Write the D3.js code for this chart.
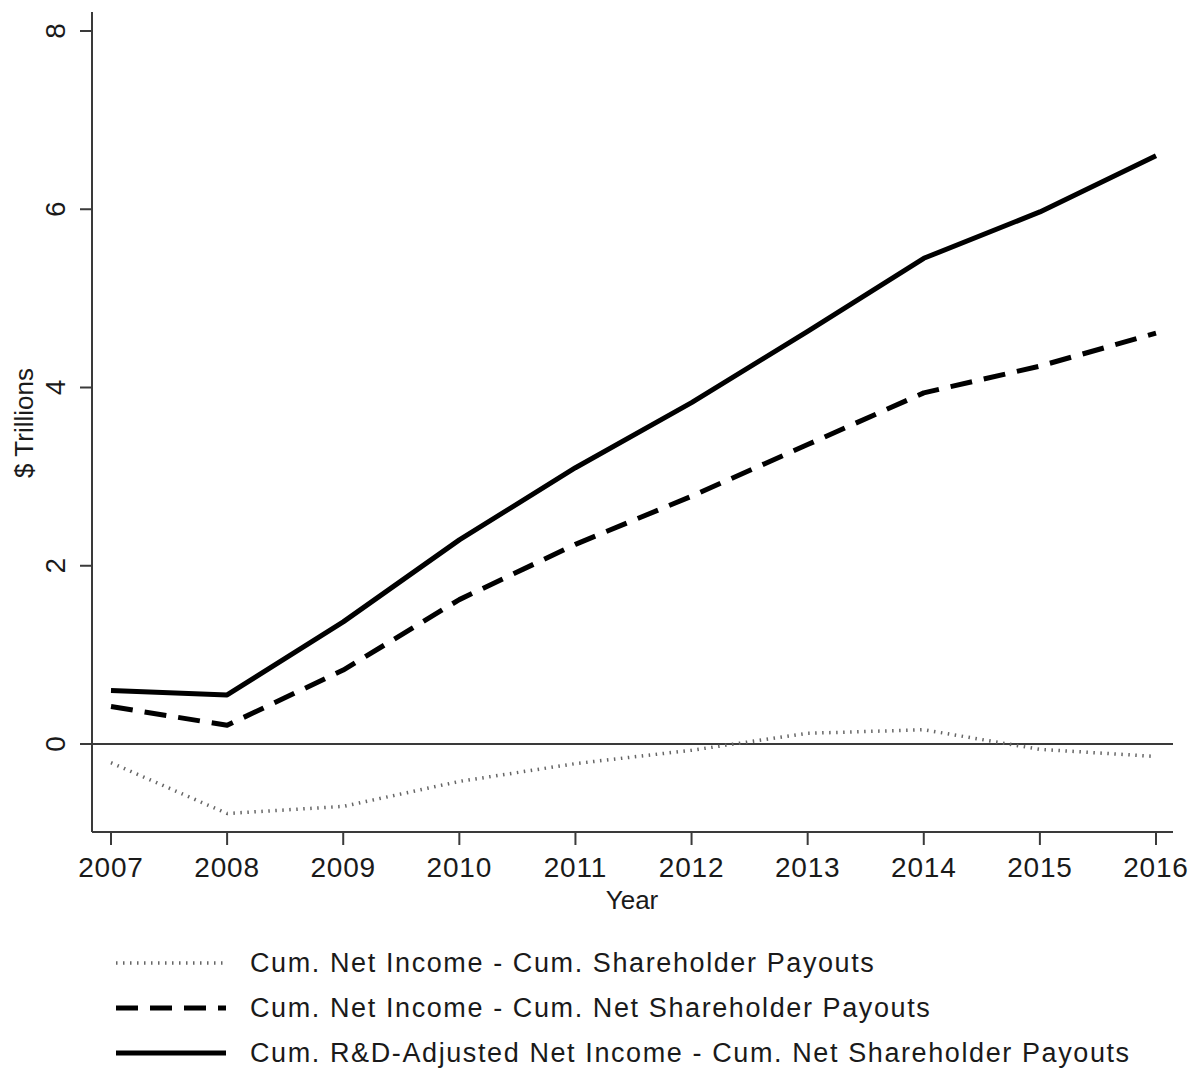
<!DOCTYPE html>
<html>
<head>
<meta charset="utf-8">
<script src="https://cdn.jsdelivr.net/npm/d3@7"></script>
<style>
  body { margin: 0; background: #fff; }
  text { font-family: "Liberation Sans", Arial, Helvetica, sans-serif; fill: #1a1a1a; }
</style>
</head>
<body>
<svg width="1193" height="1071"></svg>
<script>
var years = [2007, 2008, 2009, 2010, 2011, 2012, 2013, 2014, 2015, 2016];
var payoutGap = [-0.21, -0.78, -0.70, -0.42, -0.22, -0.07, 0.12, 0.16, -0.06, -0.14];
var netPayoutGap = [0.42, 0.21, 0.83, 1.62, 2.24, 2.78, 3.36, 3.94, 4.24, 4.61];
var rdNetPayoutGap = [0.60, 0.55, 1.37, 2.29, 3.10, 3.83, 4.63, 5.45, 5.97, 6.60];
var yTicks = [0, 2, 4, 6, 8];
var seriesNames = [
  "Cum. Net Income - Cum. Shareholder Payouts",
  "Cum. Net Income - Cum. Net Shareholder Payouts",
  "Cum. R&D-Adjusted Net Income - Cum. Net Shareholder Payouts"
];

var plot = { left: 92, right: 1173, top: 12, bottom: 832 };

var x = d3.scaleLinear().domain([2007, 2016]).range([111, 1156]);
var y = d3.scaleLinear().domain([0, 8]).range([744, 31]);

var svg = d3.select("svg");
var axisColor = "#3a3a3a";

// axis lines
svg.append("line")
  .attr("x1", plot.left).attr("x2", plot.left)
  .attr("y1", plot.top).attr("y2", plot.bottom)
  .attr("stroke", axisColor).attr("stroke-width", 2);
svg.append("line")
  .attr("x1", plot.left).attr("x2", plot.right)
  .attr("y1", plot.bottom).attr("y2", plot.bottom)
  .attr("stroke", axisColor).attr("stroke-width", 2);

// y ticks, labels rotated
var yt = svg.append("g").selectAll("g").data(yTicks).join("g")
  .attr("transform", d => "translate(0," + y(d) + ")");
yt.append("line").attr("x1", plot.left - 12).attr("x2", plot.left)
  .attr("stroke", axisColor).attr("stroke-width", 2);
yt.append("text")
  .attr("transform", "translate(65,0) rotate(-90)")
  .attr("text-anchor", "middle")
  .attr("font-size", 28)
  .text(d => d);

// x ticks
var xt = svg.append("g").selectAll("g").data(years).join("g")
  .attr("transform", d => "translate(" + x(d) + ",0)");
xt.append("line").attr("y1", plot.bottom).attr("y2", plot.bottom + 13)
  .attr("stroke", axisColor).attr("stroke-width", 2);
xt.append("text")
  .attr("y", 877)
  .attr("text-anchor", "middle")
  .attr("font-size", 28)
  .attr("letter-spacing", 0.8)
  .text(d => d);

// titles
svg.append("text")
  .attr("x", 632).attr("y", 909)
  .attr("text-anchor", "middle")
  .attr("font-size", 26)
  .text("Year");
svg.append("text")
  .attr("transform", "translate(33,423) rotate(-90)")
  .attr("text-anchor", "middle")
  .attr("font-size", 26)
  .text("$ Trillions");

// zero line
svg.append("line")
  .attr("x1", plot.left).attr("x2", plot.right)
  .attr("y1", y(0)).attr("y2", y(0))
  .attr("stroke", axisColor).attr("stroke-width", 2);

var styles = [
  { color: "#666", width: 3.5, dash: "1.5,5.5" },
  { color: "#000", width: 5, dash: "22,12" },
  { color: "#000", width: 5, dash: null }
];
var allSeries = [payoutGap, netPayoutGap, rdNetPayoutGap];

var line = d3.line()
  .x((d, i) => x(years[i]))
  .y(d => y(d));

allSeries.forEach(function(s, i) {
  svg.append("path")
    .datum(s)
    .attr("fill", "none")
    .attr("stroke", styles[i].color)
    .attr("stroke-width", styles[i].width)
    .attr("stroke-dasharray", styles[i].dash)
    .attr("stroke-linejoin", "round")
    .attr("d", line);
});

// legend
var legend = svg.append("g").selectAll("g").data(seriesNames).join("g")
  .attr("transform", (d, i) => "translate(0," + (963 + i * 45) + ")");
legend.append("line")
  .attr("x1", 116).attr("x2", 226)
  .attr("stroke", (d, i) => styles[i].color)
  .attr("stroke-width", (d, i) => styles[i].width)
  .attr("stroke-dasharray", (d, i) => styles[i].dash);
legend.append("text")
  .attr("x", 250).attr("y", 9)
  .attr("font-size", 27)
  .attr("letter-spacing", 1.6)
  .text(d => d);
</script>
</body>
</html>
